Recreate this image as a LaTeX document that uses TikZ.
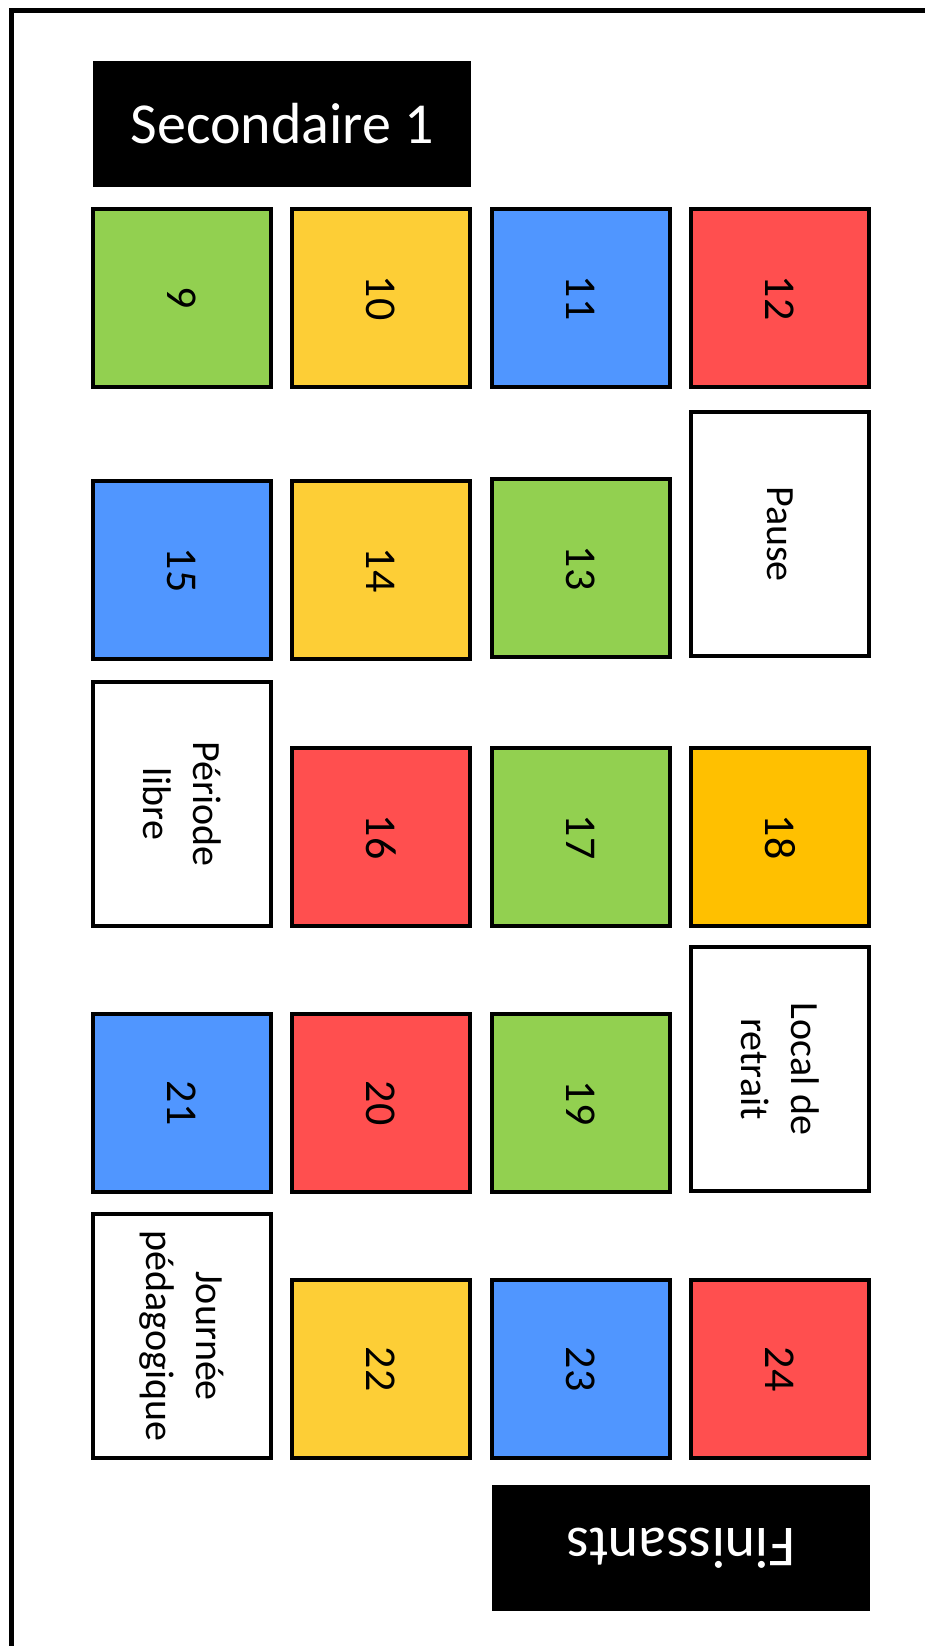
\documentclass[tikz,border=0pt]{standalone}
\usepackage{fontspec}
\setmainfont{Carlito}
\usepackage{tikz}
\usetikzlibrary{positioning}

\definecolor{tgreen}{HTML}{92D050}
\definecolor{tyellow}{HTML}{FDCE36}
\definecolor{tblue}{HTML}{5096FF}
\definecolor{tred}{HTML}{FF4F4F}
\definecolor{torange}{HTML}{FFC000}

\begin{document}
\begin{tikzpicture}[x=1pt, y=1pt]
  \tikzstyle{tile}=[rectangle, draw, line width=4pt, inner sep=0pt, minimum width=178pt, minimum height=178pt, rotate=-90, font=\fontsize{44}{50}\selectfont]
  \tikzstyle{tall}=[tile, fill=white, minimum width=244pt, align=center, font=\fontsize{40}{50}\selectfont]
  \tikzstyle{banner}=[rectangle, fill=black, text=white, inner sep=0pt, minimum width=378pt, minimum height=126pt, font=\fontsize{58}{64}\selectfont]

  \useasboundingbox (0,0) rectangle (924,-1646);
  \draw[line width=5pt] (11,-1650) -- (11,-11) -- (930,-11);

  \node[banner] (sec) at (282,-124) {Secondaire 1};

  \node[tile, fill=tgreen] (t9) at (182,-298) {9};
  \node[tile, fill=tyellow] (t10) at (381,-298) {10};
  \node[tile, fill=tblue] (t11) at (581,-298) {11};
  \node[tile, fill=tred] (t12) at (780,-298) {12};

  \node[tile, fill=tblue] (t15) at (182,-570) {15};
  \node[tile, fill=tyellow] (t14) at (381,-570) {14};
  \node[tile, fill=tgreen] (t13) at (581,-568) {13};
  \node[tall] (pause) at (780,-534) {Pause};

  \node[tall] (libre) at (182,-804) {Période\\libre};
  \node[tile, fill=tred] (t16) at (381,-837) {16};
  \node[tile, fill=tgreen] (t17) at (581,-837) {17};
  \node[tile, fill=torange] (t18) at (780,-837) {18};

  \node[tile, fill=tblue] (t21) at (182,-1103) {21};
  \node[tile, fill=tred] (t20) at (381,-1103) {20};
  \node[tile, fill=tgreen] (t19) at (581,-1103) {19};
  \node[tall] (retrait) at (780,-1069) {Local de\\retrait};

  \node[tall] (journee) at (182,-1336) {Journée\\pédagogique};
  \node[tile, fill=tyellow] (t22) at (381,-1369) {22};
  \node[tile, fill=tblue] (t23) at (581,-1369) {23};
  \node[tile, fill=tred] (t24) at (780,-1369) {24};

  \node[banner, rotate=180] (fin) at (681,-1548) {Finissants};
\end{tikzpicture}
\end{document}
